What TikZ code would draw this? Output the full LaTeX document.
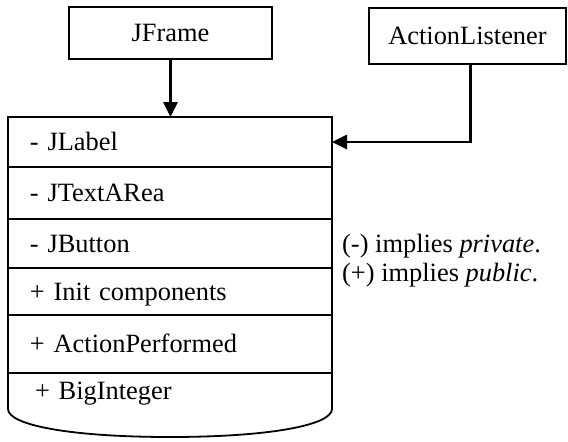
\documentclass[tikz,border=0pt]{standalone}
\usepackage{fontspec}
\setmainfont{Liberation Serif}
\usetikzlibrary{arrows.meta,positioning}

\tikzset{
  box/.style={rectangle,draw,line width=1.8pt,outer sep=0pt,inner sep=0pt},
  member/.style={box,anchor=north west,inner xsep=22pt,text width=280pt,
    align=left,text height=17.5pt,text depth=0pt,minimum width=324pt},
  link/.style={line width=2.6pt,-{Triangle[length=15pt,width=14pt]}}
}

\begin{document}
\begin{tikzpicture}[x=1pt,y=-1pt,font=\fontsize{26.4}{29}\selectfont]
\useasboundingbox (0,0) rectangle (568,442);

% parent and interface
\node[box,minimum width=203pt,minimum height=52pt,anchor=north west] (jframe) at (69,7) {JFrame};
\node[box,minimum width=197pt,minimum height=56pt,anchor=north west] (listener) at (369,8) {ActionListener};

% class members
\node[member,minimum height=50pt] (label) at (8,117) {- JLabel};
\node[member,minimum height=52pt,below=0pt of label] (textarea) {- JTextARea};
\node[member,minimum height=49pt,below=0pt of textarea] (button) {- JButton};
\node[member,minimum height=47pt,below=0pt of button] (init) {+ Init components};
\node[member,minimum height=58pt,below=0pt of init] (performed) {+ ActionPerformed};
\node[member,draw=none,inner xsep=27pt,text width=270pt,minimum height=36pt,
  below=0pt of performed] (bigint) {+ BigInteger};
\draw[line width=1.8pt] (bigint.north west) -- (bigint.south west)
  .. controls +(0,16) and +(-100,0) .. ([yshift=-28pt]bigint.south)
  .. controls +(100,0) and +(0,16) .. (bigint.south east) -- (bigint.north east);

% legend
\node[anchor=west,align=left,inner sep=0pt] (note) at (342,261)
  {(-) implies \textit{private}.\\(+) implies \textit{public}.};

% connectors
\draw[link] (jframe.south) -- (jframe.south |- label.north);
\draw[link] ([xshift=3pt]listener.south) -- ([xshift=3pt]listener.south |- label.east) -- (label.east);
\end{tikzpicture}
\end{document}
